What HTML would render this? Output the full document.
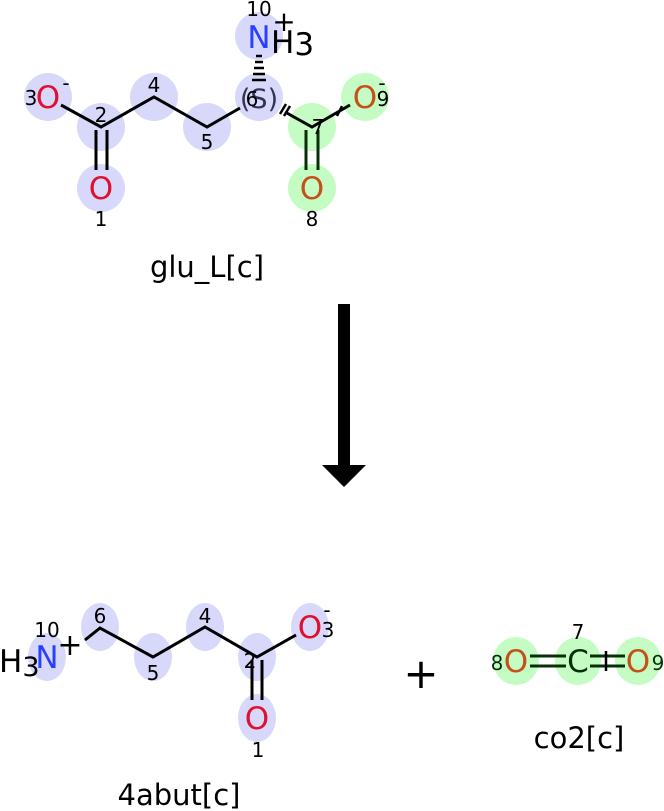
<!DOCTYPE html>
<html><head><style>body{margin:0;background:#fff}svg{display:block}text{font-family:"DejaVu Sans","Liberation Sans",sans-serif}</style></head><body>
<svg width="664" height="811" viewBox="0 0 664 811" xmlns="http://www.w3.org/2000/svg">
<g fill="#d8d8fb">
<circle cx="48" cy="97" r="24"/><circle cx="101" cy="127" r="24"/><circle cx="101" cy="188" r="24"/>
<circle cx="154" cy="97" r="24"/><circle cx="207" cy="127" r="24"/><circle cx="259" cy="97" r="24"/><circle cx="259" cy="36" r="24"/>
</g>
<g fill="#c4fcc4">
<circle cx="312" cy="127" r="24"/><circle cx="365" cy="97" r="24"/><circle cx="312" cy="188" r="24"/>
</g>
<g stroke="#000" stroke-width="3" fill="none">
<path d="M61 105 L101 127 L154 97 L207 127 L240 108"/>
<path d="M96 130 V170 M107 130 V170"/>
<path d="M285 112 L312 127 L350 105"/>
<path d="M306 130 V170 M318 130 V170" stroke="#073007"/>
<path d="M252 80 H266 M253 74 H265 M254 68 H264 M255 62 H263 M256 56 H262" stroke-width="2.5"/>
<path d="M280 114 L286 104 M284 116 L290 106 M337 116 L342 106" stroke-width="2.5"/>
</g>
<g font-size="31">
<text x="48" y="108" text-anchor="middle" fill="#e0102f">O</text>
<text x="101" y="199" text-anchor="middle" fill="#e0102f">O</text>
<text x="259" y="48" text-anchor="middle" fill="#2a40ff">N</text>
<text x="271" y="53" fill="#000">H<tspan dy="2">3</tspan></text>
<text x="365" y="108" text-anchor="middle" fill="#c4501a">O</text>
<text x="312" y="199" text-anchor="middle" fill="#c4501a">O</text>
<text x="259" y="108" text-anchor="middle" fill="#333355" font-size="27">(S)</text>
</g>
<g font-size="20" fill="#000" text-anchor="middle">
<text x="31" y="105">3</text><text x="66" y="90">-</text><text x="101" y="122">2</text><text x="101" y="226">1</text>
<text x="154" y="92">4</text><text x="207" y="149">5</text><text x="252" y="106">6</text><text x="259" y="16">10</text>
<text x="284" y="31" font-size="28">+</text><text x="318" y="134">7</text><text x="312" y="226">8</text>
<text x="383" y="106">9</text><text x="382" y="90">-</text>
</g>
<text x="207" y="277" font-size="29" text-anchor="middle">glu_L[c]</text>
<rect x="338" y="304" width="12" height="164" fill="#000"/>
<polygon points="322,465 366,465 344,487" fill="#000"/>
<g fill="#d8d8fb">
<ellipse cx="47" cy="657" rx="19" ry="24"/><ellipse cx="100" cy="627" rx="19" ry="24"/><ellipse cx="153" cy="657" rx="19" ry="24"/>
<ellipse cx="205" cy="627" rx="19" ry="24"/><ellipse cx="257" cy="657" rx="19" ry="24"/><ellipse cx="310" cy="627" rx="19" ry="24"/><ellipse cx="257" cy="718" rx="19" ry="24"/>
</g>
<g fill="#c4fcc4"><ellipse cx="516" cy="661" rx="23" ry="24"/><ellipse cx="578" cy="661" rx="23" ry="24"/><ellipse cx="638" cy="661" rx="23" ry="24"/></g>
<g stroke="#000" stroke-width="3" fill="none">
<path d="M85 640 L100 628 L153 657 L205 627 L257 657 L296 635"/>
<path d="M252 660 V700 M262 660 V700"/>
<path d="M530 656 H566 M530 666 H566 M590 656 H625 M590 666 H625" stroke="#073007"/>
<path d="M606 651 V671" stroke-width="2.5"/>
</g>
<g font-size="31">
<text x="47" y="668" text-anchor="middle" fill="#2a40ff">N</text>
<text x="-1" y="672" fill="#000">H<tspan font-size="27" dy="4">3</tspan></text>
<text x="310" y="638" text-anchor="middle" fill="#e0102f">O</text>
<text x="257" y="729" text-anchor="middle" fill="#e0102f">O</text>
<text x="516" y="672" text-anchor="middle" fill="#c4501a">O</text>
<text x="578" y="672" text-anchor="middle" fill="#073007">C</text>
<text x="638" y="672" text-anchor="middle" fill="#c4501a">O</text>
<text x="421" y="688" text-anchor="middle" font-size="42">+</text>
</g>
<g font-size="20" fill="#000" text-anchor="middle">
<text x="47" y="637">10</text><text x="70" y="655" font-size="30">+</text><text x="100" y="623">6</text><text x="153" y="680">5</text>
<text x="205" y="623">4</text><text x="250" y="668">2</text><text x="328" y="637">3</text><text x="327" y="617">-</text><text x="258" y="757">1</text>
<text x="497" y="670" fill="#073007">8</text><text x="578" y="639">7</text><text x="658" y="670" fill="#073007">9</text>
</g>
<text x="179" y="805" font-size="29" text-anchor="middle">4abut[c]</text>
<text x="579" y="748" font-size="29" text-anchor="middle">co2[c]</text>
</svg>
</body></html>
